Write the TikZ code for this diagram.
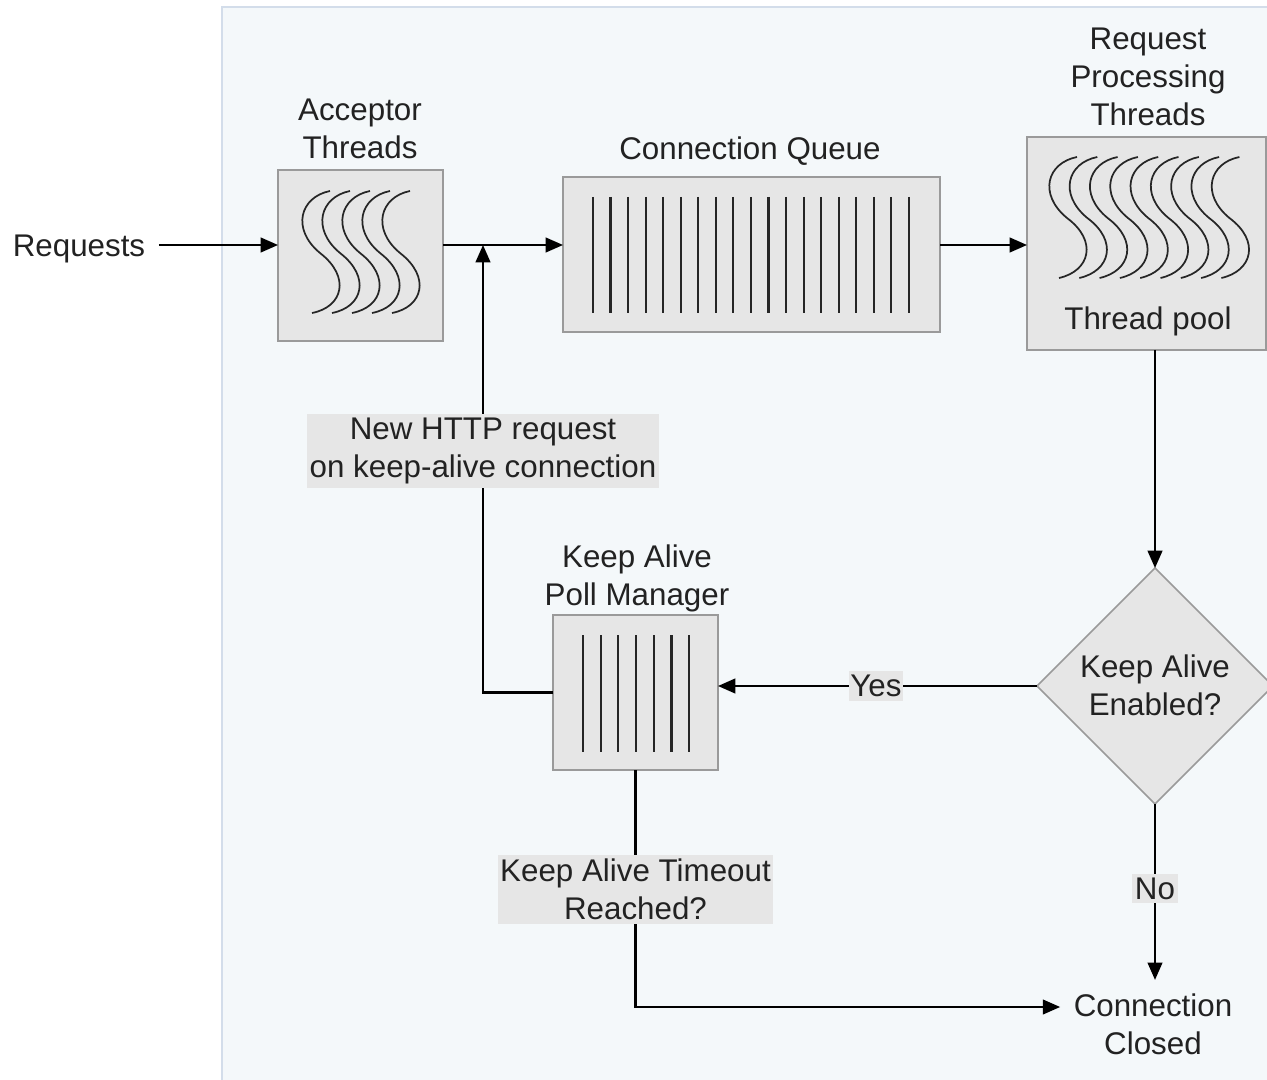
\documentclass[tikz,border=0pt]{standalone}
\usepackage{fontspec}
\setmainfont{Liberation Sans}
\usetikzlibrary{shapes.geometric,arrows.meta,calc}
\definecolor{panelfill}{HTML}{F4F8FA}
\definecolor{panelline}{HTML}{D3DDEA}
\definecolor{boxfill}{HTML}{E6E6E6}
\definecolor{boxline}{HTML}{9A9A9A}
\definecolor{textcol}{HTML}{222222}
\definecolor{wavecol}{HTML}{262626}
\begin{document}
\begin{tikzpicture}[x=0.75pt,y=-0.75pt,
  box/.style={draw=boxline, fill=boxfill, line width=1.3pt, rectangle, inner sep=0pt, outer sep=0pt},
  lbl/.style={font=\fontsize{23.5}{28.5}\selectfont, align=center, inner sep=0pt, text=textcol},
  tag/.style={lbl, fill=boxfill, inner xsep=2pt, inner ysep=3pt},
  link/.style={line width=1.6pt, draw=black},
  arr/.style={link, -{Triangle[length=13pt,width=11pt]}},
  wavestyle/.style={line width=1.3pt, draw=wavecol},
  barstyle/.style={line width=1.6pt, draw=wavecol}]
\useasboundingbox (0,0) rectangle (1267,1080);
\fill[white] (0,0) rectangle (1267,1080);
\draw[panelline, fill=panelfill, line width=1.2pt] (222,7) rectangle (1275,1090);

% boxes
\node[box, minimum width={165*0.75pt}, minimum height={171*0.75pt}] (acc) at (360.5,255.5) {};
\node[box, minimum width={377*0.75pt}, minimum height={155*0.75pt}] (queue) at (751.5,254.5) {};
\node[box, minimum width={239*0.75pt}, minimum height={213*0.75pt}] (rpt) at (1146.5,243.5) {};
\node[box, minimum width={165*0.75pt}, minimum height={155*0.75pt}] (kapm) at (635.5,692.5) {};
\node[box, diamond, minimum width={236*0.75pt}, minimum height={236*0.75pt}] (dia) at (1155,686) {};

% box titles
\node[lbl] (acct) at (360,129) {Acceptor\\Threads};
\node[lbl] (queuet) at (750,151) {Connection Queue};
\node[lbl] (rptt) at (1148,77) {Request\\Processing\\Threads};
\node[lbl] (pool) at (1148,321) {Thread pool};
\node[lbl] (kapmt) at (637,578) {Keep Alive\\Poll Manager};
\node[lbl] (diat) at (1155,685) {Keep Alive\\Enabled?};
\node[lbl, inner xsep=10pt, inner ysep=10pt] (req) at (79,249) {Requests};
\node[lbl, inner xsep=10pt, inner ysep=10pt] (cc) at (1153,1024) {Connection\\Closed};

% waves
\foreach \i in {0,...,4}{
  \pgfmathsetmacro{\L}{303+20*\i}
  \draw[wavestyle] (\L+27,191) .. controls (\L-3,197) and (\L-12,229) .. (\L+17,253)
        .. controls (\L+48,277) and (\L+40,307) .. (\L+9,313);
}
\foreach \i in {0,...,8}{
  \pgfmathsetmacro{\L}{1050+20.3*\i}
  \draw[wavestyle] (\L+27,157) .. controls (\L-3,163) and (\L-12,194) .. (\L+17,218)
        .. controls (\L+48,241) and (\L+40,271) .. (\L+9,278);
}
% queue bars
\foreach \i in {0,...,18}{
  \draw[barstyle] (593+17.55*\i,197) -- (593+17.55*\i,313);
}
\foreach \i in {0,...,6}{
  \draw[barstyle] (583+17.7*\i,635) -- (583+17.7*\i,752);
}

% connectors
\coordinate (j) at (483,245);
\draw[arr] (req.east |- j) -- (acc.west |- j);
\draw[arr] (acc.east |- j) -- (queue.west |- j);
\draw[arr] (queue.east |- j) -- (rpt.west |- j);
\draw[arr] (dia.north |- rpt.south) -- (dia.north);
\draw[arr] (kapm.west) -| (j)
  node[tag, pos=0.77] (newreq) {New HTTP request\\on keep-alive connection};
\draw[arr] (dia.west) -- (kapm.east |- dia.west)
  node[tag, pos=0.505, inner xsep=1pt] (yes) {Yes};
\draw[arr] (dia.south) -- (dia.south |- cc.north)
  node[tag, pos=0.48, inner xsep=2pt] (no) {No};
\draw[arr] (kapm.south) |- ([yshift=12.75pt]cc.west)
  node[tag, pos=0.252] (timeout) {Keep Alive Timeout\\Reached?};
\end{tikzpicture}
\end{document}
